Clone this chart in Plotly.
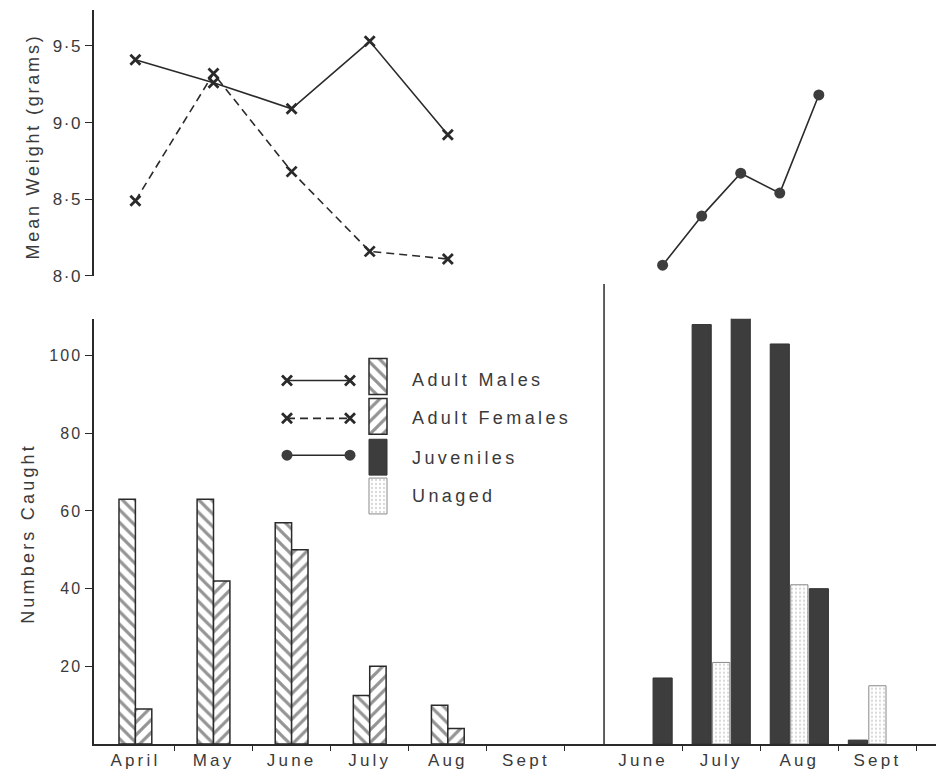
import plotly.graph_objects as go

# ---- adults, sampled monthly ----
adult_months = ["April", "May", "June", "July", "Aug", "Sept"]
male_weight = [9.41, 9.26, 9.09, 9.53, 8.92]
female_weight = [8.49, 9.32, 8.68, 8.16, 8.11]
male_count = [63, 63, 57, 12.5, 10]
female_count = [9, 42, 50, 20, 4]

# ---- juveniles (half-monthly samples) and unaged animals ----
juv_months = ["June", "July", "Aug", "Sept"]
juv_sample_month = ["June", "July", "July", "Aug", "Aug", "Sept"]
juv_sample_half = [2, 1, 2, 1, 2, 1]
juv_weight = [8.07, 8.39, 8.67, 8.54, 9.18]
juv_count = [17, 108, 112, 103, 40, 1]
unaged_months = ["July", "Aug", "Sept"]
unaged_count = [21, 41, 15]

weight_ticks = ["8·0", "8·5", "9·0", "9·5"]
count_ticks = ["20", "40", "60", "80", "100"]
legend_labels = ["Adult Males", "Adult Females", "Juveniles", "Unaged"]

# ---- styling ----
INK = "#2a2a2a"
TEXT = "#3a3a3a"
DARK = "#3d3d3d"
FONT = "Liberation Sans"


def spaced(s, px):
    return f'<span style="letter-spacing:{px}px">{s}</span>'


# ---- x positions in month units ----
adult_center = {m: i + 0.5 for i, m in enumerate(adult_months)}
divider_x = len(adult_months) + 0.5
juv_center = {m: divider_x + 0.5 + j for j, m in enumerate(juv_months)}
juv_x = [juv_center[m] + (0.25 if h == 2 else -0.25)
         for m, h in zip(juv_sample_month, juv_sample_half)]
unaged_x = [juv_center[m] for m in unaged_months]

n_adult = len(male_count)
adult_x = [adult_center[m] for m in adult_months[:n_adult]]
pair_off, adult_w, young_w = 0.105, 0.21, 0.245

male_pattern = dict(shape="\\", fgcolor=INK, bgcolor="white", size=9, solidity=0.36)
female_pattern = dict(shape="/", fgcolor=INK, bgcolor="white", size=9, solidity=0.36)
unaged_pattern = dict(shape=".", fgcolor="#b0b0b0", bgcolor="white", size=4, solidity=0.25)

W, H = 943, 777
L, R, T, B = 94, 7, 10, 30
ph = H - T - B
bottom_top_px, top_bottom_px = 320, 277
dom_bottom = [0, (H - B - bottom_top_px) / ph]
dom_top = [(H - B - top_bottom_px) / ph, 1]

fig = go.Figure()

# ---- counts (bottom panel) ----
fig.add_trace(go.Bar(x=[x - pair_off for x in adult_x], y=male_count, width=adult_w,
                     marker=dict(color="white", pattern=male_pattern,
                                 line=dict(color=INK, width=1.5)),
                     xaxis="x", yaxis="y", showlegend=False))
fig.add_trace(go.Bar(x=[x + pair_off for x in adult_x], y=female_count, width=adult_w,
                     marker=dict(color="white", pattern=female_pattern,
                                 line=dict(color=INK, width=1.5)),
                     xaxis="x", yaxis="y", showlegend=False))
fig.add_trace(go.Bar(x=juv_x, y=juv_count, width=young_w,
                     marker=dict(color=DARK, line=dict(color="#333333", width=1)),
                     xaxis="x", yaxis="y", showlegend=False))
fig.add_trace(go.Bar(x=unaged_x, y=unaged_count, width=young_w * 0.9,
                     marker=dict(color="white", pattern=unaged_pattern,
                                 line=dict(color="#8a8a8a", width=1)),
                     xaxis="x", yaxis="y", showlegend=False))

# ---- mean weights (top panel) ----
x_marker = dict(symbol="x-thin", size=10, line=dict(color=INK, width=2.8), color=INK)
dot_marker = dict(symbol="circle", size=11, color=DARK)
fig.add_trace(go.Scatter(x=adult_x, y=male_weight, mode="lines+markers",
                         line=dict(color=INK, width=1.6), marker=x_marker,
                         xaxis="x", yaxis="y2", showlegend=False))
fig.add_trace(go.Scatter(x=adult_x, y=female_weight, mode="lines+markers",
                         line=dict(color=INK, width=1.6, dash="8px,5px"), marker=x_marker,
                         xaxis="x", yaxis="y2", showlegend=False))
fig.add_trace(go.Scatter(x=juv_x[:len(juv_weight)], y=juv_weight, mode="lines+markers",
                         line=dict(color=INK, width=1.6), marker=dot_marker,
                         xaxis="x", yaxis="y2", showlegend=False))

# ---- key, drawn on a separate axis pair measured in pixels ----
key_rows = [378, 418, 459, 498]
key_box_h, key_box_x, key_box_w = 36, 378, 18
key_line = (287, 350)
key_styles = [
    dict(color="white", pattern=male_pattern, line=dict(color=INK, width=1.5)),
    dict(color="white", pattern=female_pattern, line=dict(color=INK, width=1.5)),
    dict(color=DARK, line=dict(color="#333333", width=1)),
    dict(color="white", pattern=unaged_pattern, line=dict(color="#8a8a8a", width=1)),
]
for row, style in zip(key_rows, key_styles):
    fig.add_trace(go.Bar(x=[key_box_x], y=[key_box_h], base=[row - key_box_h / 2],
                         width=[key_box_w], marker=style,
                         xaxis="x3", yaxis="y3", showlegend=False))
key_lines = [
    (382, dict(color=INK, width=1.6), x_marker),
    (420, dict(color=INK, width=1.6, dash="8px,5px"), x_marker),
    (457, dict(color=INK, width=1.6), dot_marker),
]
for y, ln, mk in key_lines:
    fig.add_trace(go.Scatter(x=list(key_line), y=[y, y], mode="lines+markers",
                             line=ln, marker=mk, xaxis="x3", yaxis="y3", showlegend=False))

annotations = []
for row, label in zip([382, 420, 460, 498], legend_labels):
    annotations.append(dict(x=410, y=row, xref="x3", yref="y3", xanchor="left",
                            yanchor="middle", showarrow=False,
                            text=spaced(label, 3.4),
                            font=dict(family=FONT, size=18, color=TEXT)))

# axis titles
annotations.append(dict(x=0, xref="paper", xshift=-66, y=(H - B - 536) / ph, yref="paper",
                        text=spaced("Numbers Caught", 3.2), textangle=-90, showarrow=False,
                        xanchor="center", yanchor="middle",
                        font=dict(family=FONT, size=18, color=TEXT)))
annotations.append(dict(x=0, xref="paper", xshift=-61, y=(H - B - 147) / ph, yref="paper",
                        text=spaced("Mean Weight (grams)", 2.8), textangle=-90, showarrow=False,
                        xanchor="center", yanchor="middle",
                        font=dict(family=FONT, size=18, color=TEXT)))

month_vals = [adult_center[m] for m in adult_months] + [juv_center[m] for m in juv_months]
month_text = [spaced(m, 3.2) for m in adult_months + juv_months]
bounds = [i + 1.0 for i in range(len(adult_months))] + \
         [juv_center[m] + 0.5 for m in juv_months]

fig.update_layout(
    width=W, height=H,
    margin=dict(l=L, r=R, t=T, b=B),
    paper_bgcolor="white", plot_bgcolor="rgba(0,0,0,0)",
    barmode="overlay",
    font=dict(family=FONT, size=16, color=TEXT),
    annotations=annotations,
    shapes=[dict(type="line", xref="x", yref="paper", x0=divider_x, x1=divider_x,
                 y0=0, y1=(H - B - 285) / ph, line=dict(color=INK, width=1.5))],
    xaxis=dict(range=[-0.03, 10.75], showgrid=False, zeroline=False,
               showline=True, linecolor=INK, linewidth=1.5,
               tickmode="array", tickvals=month_vals, ticktext=month_text, ticks="",
               tickfont=dict(family=FONT, size=17, color=TEXT),
               minor=dict(tickmode="array", tickvals=bounds, ticks="outside",
                          ticklen=5, tickwidth=1.2, tickcolor=INK, showgrid=False),
               anchor="y", fixedrange=True),
    yaxis=dict(domain=dom_bottom, range=[0, 109.5], showgrid=False, zeroline=False,
               showline=True, linecolor=INK, linewidth=1.5,
               tickmode="array", tickvals=[float(t) for t in count_ticks],
               ticktext=[spaced(t, 2) for t in count_ticks],
               ticks="outside", ticklen=7, tickwidth=1.2, tickcolor=INK,
               tickfont=dict(family=FONT, size=16, color=TEXT), anchor="x"),
    yaxis2=dict(domain=dom_top, range=[8.0, 9.734], showgrid=False, zeroline=False,
                showline=True, linecolor=INK, linewidth=1.5,
                tickmode="array", tickvals=[float(t.replace("·", ".")) for t in weight_ticks],
                ticktext=[spaced(t, 1.5) for t in weight_ticks],
                ticks="outside", ticklen=7, tickwidth=1.2, tickcolor=INK,
                tickfont=dict(family=FONT, size=17, color=TEXT), anchor="x"),
    xaxis3=dict(domain=[0, 1], range=[L, W - R], visible=False, anchor="y3",
                fixedrange=True),
    yaxis3=dict(domain=[0, 1], range=[H - B, T], visible=False, anchor="x3",
                fixedrange=True),
)

fig.write_html("out.html")
